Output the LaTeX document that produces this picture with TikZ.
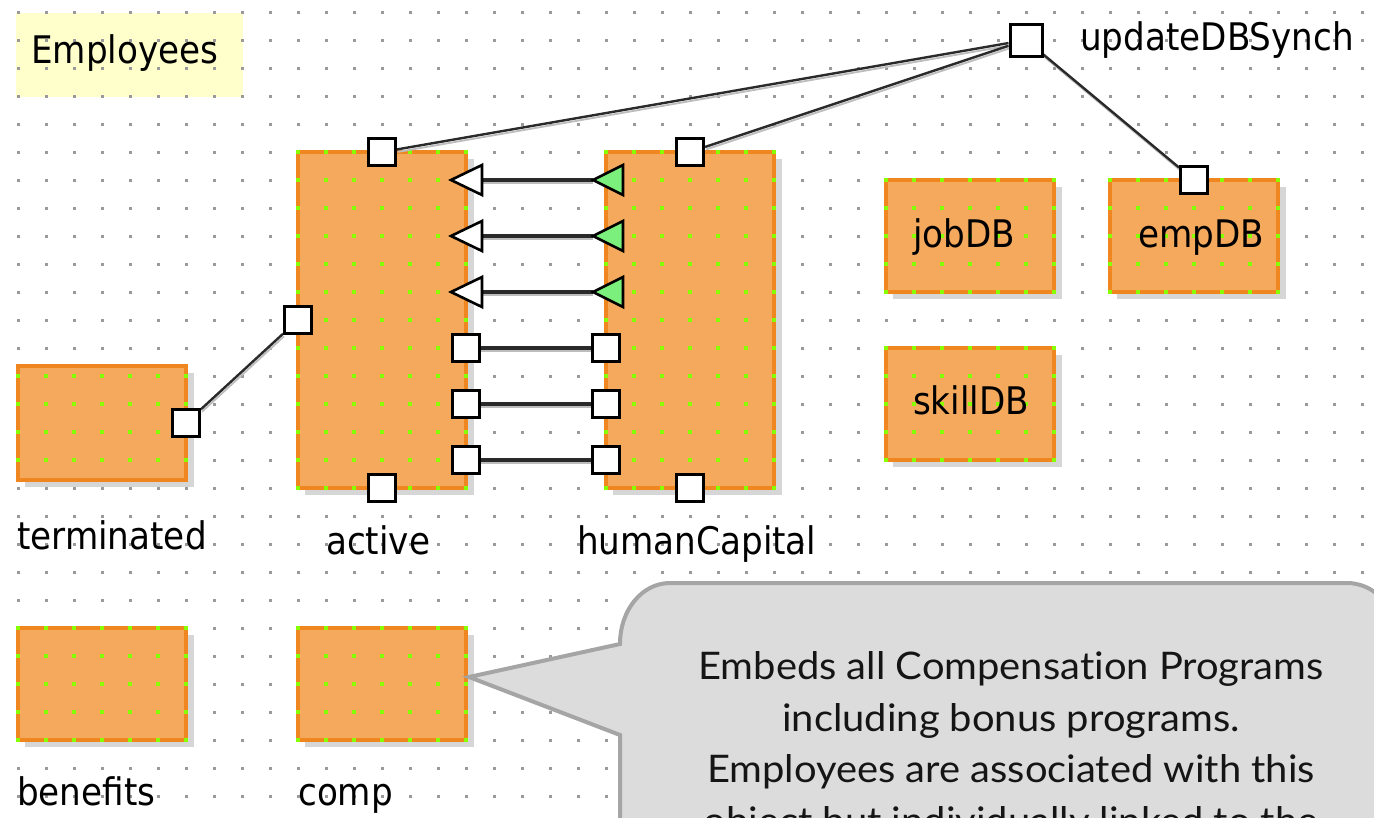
\documentclass[tikz,border=0pt]{standalone}
\usepackage{fontspec}
\newfontfamily\uifont[FakeStretch=0.9]{DejaVu Sans}
\newfontfamily\notefont[FakeStretch=1.05,Ligatures=NoCommon]{Lato}
\definecolor{orfill}{HTML}{F5A95C}
\definecolor{orline}{HTML}{F0861F}
\definecolor{dotgray}{HTML}{9A9A9A}
\definecolor{dotgreen}{HTML}{88FF00}
\definecolor{yel}{HTML}{FFFFCC}
\definecolor{calfill}{HTML}{DCDCDC}
\definecolor{calline}{HTML}{A5A5A5}
\definecolor{tgreen}{HTML}{7CF07C}
\definecolor{wiregray}{HTML}{2A2A2A}
\definecolor{wireshadow}{HTML}{BDBDBD}
\definecolor{boxshadow}{HTML}{D6D6D6}
\definecolor{notetext}{HTML}{151515}
\tikzset{
  lbl/.style={anchor=base west, inner sep=0pt, font=\uifont\fontsize{38}{40}\selectfont, text=black},
  boxlbl/.style={anchor=base, inner sep=0pt, font=\uifont\fontsize{38}{40}\selectfont, text=black},
  orbox/.style={rectangle, draw=orline, line width=3.5pt, fill=orfill, inner sep=0pt},
  portbox/.style={rectangle, draw=black, fill=white, line width=3pt, minimum size=27pt, inner sep=0pt},
  hwire/.style={draw=wiregray, line width=3.2pt, preaction={draw=wireshadow, line width=2pt, transform canvas={yshift=-3pt}}},
  dwire/.style={draw=wiregray, line width=2.4pt, preaction={draw=wireshadow, line width=1.8pt, transform canvas={xshift=1pt,yshift=-2.5pt}}},
  wtri/.style={draw=black, fill=white, line width=2.6pt, line join=miter},
  gtri/.style={draw=black, fill=tgreen, line width=2.6pt, line join=miter},
  callout/.style={draw=calline, fill=calfill, line width=4pt, line join=miter},
  notetxt/.style={anchor=base, inner sep=0pt, font=\notefont\fontsize{38}{40}\selectfont, text=notetext},
}
\newcommand\greendots[5]{%
  \begin{scope}
    \clip ([shift={(-2,2)}]#1.south west) rectangle ([shift={(2,-2)}]#1.north east);
    \foreach \i in {#2,...,#3}{\foreach \j in {#4,...,#5}{%
      \fill[dotgreen] ({18+28*\i-1.75},{12+28*\j-1.75}) rectangle ++(3.5,3.5);}}
  \end{scope}}
\begin{document}
\begin{tikzpicture}[x=1pt,y=-1pt]
\useasboundingbox (0,0) rectangle (1374,817);
\clip (0,0) rectangle (1374,817);
% Employees title box
\fill[yel] (16,13) rectangle (243,97);
% box shadows
\foreach \a/\b/\c/\d in {298/152/466/488, 606/152/774/488, 18/366/186/480, 886/180/1054/292, 1110/180/1278/292, 886/348/1054/460, 18/628/186/740, 298/628/466/740}{
  \fill[boxshadow] (\a+7,\b+7) rectangle (\c+8,\d+7);}
% grid dots
\foreach \i in {0,...,48}{\foreach \j in {0,...,28}{%
  \fill[dotgray] ({18+28*\i-1.5},{12+28*\j-1.5}) rectangle ++(3,3);}}
% orange boxes
\node[orbox, minimum width=168pt, minimum height=336pt] (active) at (382,320) {};
\node[orbox, minimum width=168pt, minimum height=336pt] (human) at (690,320) {};
\node[orbox, minimum width=168pt, minimum height=114pt] (term) at (102,423) {};
\node[orbox, minimum width=168pt, minimum height=112pt] (jobdb) at (970,236) {};
\node[orbox, minimum width=168pt, minimum height=112pt] (empdb) at (1194,236) {};
\node[orbox, minimum width=168pt, minimum height=112pt] (skilldb) at (970,404) {};
\node[orbox, minimum width=168pt, minimum height=112pt] (benefits) at (102,684) {};
\node[orbox, minimum width=168pt, minimum height=112pt] (comp) at (382,684) {};
\greendots{active}{10}{16}{5}{17}
\greendots{human}{21}{27}{5}{17}
\greendots{term}{0}{6}{13}{16}
\greendots{jobdb}{31}{37}{6}{10}
\greendots{empdb}{39}{45}{6}{10}
\greendots{skilldb}{31}{37}{12}{16}
\greendots{benefits}{0}{6}{22}{26}
\greendots{comp}{10}{16}{22}{26}
% labels
\node[lbl] (lEmp) at (31,63) {Employees};
\node[lbl] (lUpd) at (1080,50) {updateDBSynch};
\node[lbl] (lTerm) at (17,549) {terminated};
\node[lbl] (lAct) at (326,554) {active};
\node[lbl] (lHum) at (577,554) {humanCapital};
\node[lbl] (lBen) at (17,805) {benefits};
\node[lbl] (lComp) at (298,805) {comp};
\node[boxlbl] (tJob) at (964,247) {jobDB};
\node[boxlbl] (tEmp) at (1201,247) {empDB};
\node[boxlbl] (tSkill) at (971,414) {skillDB};
% ports
\node[portbox] (pAT) at (382,152) {};
\node[portbox] (pHT) at (690,152) {};
\node[portbox] (pAB) at (382,488) {};
\node[portbox] (pHB) at (690,488) {};
\node[portbox] (pAL) at (298,320) {};
\node[portbox] (pT) at (186,423) {};
\node[portbox] (pE) at (1194,180) {};
\node[portbox, minimum size=32pt, line width=3pt] (pU) at (1026,40) {};
\foreach \k/\y in {1/348,2/404,3/460}{
  \node[portbox] (pAR\k) at (466,\y) {};
  \node[portbox] (pHL\k) at (606,\y) {};
}
% triangle ports (pointing left)
\foreach \k/\y in {1/180,2/236,3/292}{
  \coordinate (wA\k) at (482,\y);
  \coordinate (gH\k) at (593,\y);
  \draw[hwire] (wA\k) -- (gH\k);
  \draw[wtri] (451,\y) -- (482,\y-15) -- (482,\y+15) -- cycle;
  \draw[gtri] (593,\y) -- (623,\y-15) -- (623,\y+15) -- cycle;
}
% square-port links
\foreach \k in {1,2,3}{\draw[hwire] (pAR\k) -- (pHL\k);}
% diagonal links
\draw[dwire] (pU) -- (pAT);
\draw[dwire] (pU) -- (pHT);
\draw[dwire] (pU) -- (pE);
\draw[dwire] (pAL) -- (pT);
% redraw ports on top of wires
\foreach \n in {pAT,pHT,pE,pAL,pT}{\node[portbox] at (\n) {};}
\node[portbox, minimum size=32pt, line width=3pt] at (pU) {};
% callout
\coordinate (notetip) at (469,677);
\draw[callout] (notetip) -- (620,644) .. controls (620,610) and (642,583) .. (670,583)
  -- (1347,583) .. controls (1373,583) and (1395,605) .. (1395,631)
  -- (1395,880) -- (620,880) -- (620,735) -- cycle;
\node[notetxt] (n1) at (1011,679) {Embeds all Compensation Programs};
\node[notetxt] (n2) at (1011,731) {including bonus programs.};
\node[notetxt] (n3) at (1011,782) {Employees are associated with this};
\node[notetxt] (n4) at (1011,834) {object but individually linked to the};
\end{tikzpicture}
\end{document}
